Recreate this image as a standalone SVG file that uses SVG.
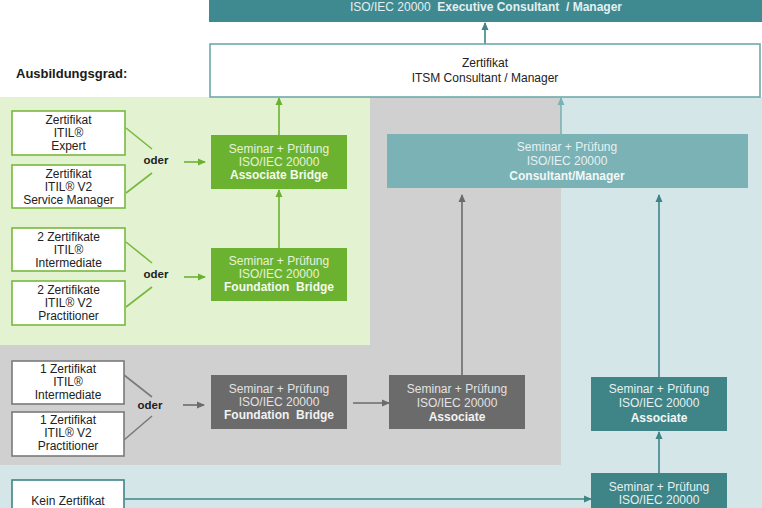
<svg xmlns="http://www.w3.org/2000/svg" width="762" height="508" viewBox="0 0 762 508">
<style>
text{font-family:"Liberation Sans",Arial,sans-serif;font-size:12px;text-anchor:middle}
.dk{fill:#222}
.lt{fill:#eef5f5}
.b{font-weight:bold}
.wbox{fill:#fff;stroke-width:1.6}
.gr{stroke:#77b93e}
.gy{stroke:#7a7a7a}
.tl{stroke:#3f8487}
.oder{font-weight:bold;font-size:11.5px;fill:#222}
.ln{fill:none;stroke-width:1.6}
</style>
<defs>
<marker id="ag" markerUnits="userSpaceOnUse" markerWidth="8" markerHeight="8" refX="7" refY="4" orient="auto"><path d="M0,0.5 L8,4 L0,7.5 z" fill="#6cb231"/></marker>
<marker id="ay" markerUnits="userSpaceOnUse" markerWidth="8" markerHeight="8" refX="7" refY="4" orient="auto"><path d="M0,0.5 L8,4 L0,7.5 z" fill="#6b6b6b"/></marker>
<marker id="at" markerUnits="userSpaceOnUse" markerWidth="8" markerHeight="8" refX="7" refY="4" orient="auto"><path d="M0,0.5 L8,4 L0,7.5 z" fill="#3f8487"/></marker>
<marker id="al" markerUnits="userSpaceOnUse" markerWidth="8" markerHeight="8" refX="7" refY="4" orient="auto"><path d="M0,0.5 L8,4 L0,7.5 z" fill="#7ab2b6"/></marker>
</defs>
<rect width="762" height="508" fill="#fff"/>
<!-- background bands -->
<rect x="0" y="97" width="762" height="411" fill="#d5e6e9"/>
<rect x="0" y="97" width="561" height="368" fill="#d0d0d0"/>
<rect x="0" y="97" width="370" height="248" fill="#e3f3d2"/>
<text x="16" y="78" style="text-anchor:start;font-weight:bold;font-size:13px;fill:#1a1a1a">Ausbildungsgrad:</text>

<g id="connectors">
<line class="ln" x1="485" y1="44" x2="485" y2="23" stroke="#3f8487" marker-end="url(#at)"/>
<line class="ln" x1="279" y1="135" x2="279" y2="98" stroke="#6cb231" marker-end="url(#ag)"/>
<line class="ln" x1="279" y1="248" x2="279" y2="190" stroke="#6cb231" marker-end="url(#ag)"/>
<line class="ln" x1="561" y1="134" x2="561" y2="98" stroke="#7ab2b6" marker-end="url(#al)"/>
<line class="ln" x1="462" y1="375" x2="462" y2="195" stroke="#6b6b6b" marker-end="url(#ay)"/>
<line class="ln" x1="659" y1="377" x2="659" y2="195" stroke="#3f8487" marker-end="url(#at)"/>
<line class="ln" x1="659" y1="473" x2="659" y2="432" stroke="#3f8487" marker-end="url(#at)"/>
<line class="ln" x1="125" y1="499" x2="591" y2="499" stroke="#3f8487" marker-end="url(#at)"/>
<line class="ln" x1="353" y1="403" x2="389" y2="403" stroke="#6b6b6b" marker-end="url(#ay)"/>
<path class="ln" d="M126,128 L152,149 M152,173 L126,193" stroke="#77b93e"/>
<path class="ln" d="M126,242 L152,263 M152,287 L126,307" stroke="#77b93e"/>
<path class="ln" d="M124,375 L152,397 M152,416 L124,440" stroke="#7a7a7a"/>
<line class="ln" x1="184" y1="162" x2="205" y2="162" stroke="#6cb231" marker-end="url(#ag)"/>
<line class="ln" x1="184" y1="277" x2="205" y2="277" stroke="#6cb231" marker-end="url(#ag)"/>
<line class="ln" x1="183" y1="405" x2="204" y2="405" stroke="#6b6b6b" marker-end="url(#ay)"/>
<text class="oder" x="156" y="164">oder</text>
<text class="oder" x="156" y="278">oder</text>
<text class="oder" x="150" y="409">oder</text>
</g>

<g id="exec">
<rect x="209" y="-2" width="555" height="24" fill="#3f8a91"/>
<text x="486" y="11" fill="#e4efef" style="white-space:pre">ISO/IEC 20000  <tspan font-weight="bold">Executive Consultant  / Manager</tspan></text>
</g>
<g id="itsm">
<rect x="210" y="44" width="550" height="53" fill="#fff" stroke="#6fa9ad" stroke-width="1.6"/>
<text class="dk" x="485" y="67">Zertifikat</text>
<text class="dk" x="485" y="82">ITSM Consultant / Manager</text>
</g>

<g id="expert">
<rect class="wbox gr" x="12" y="111" width="113" height="44"/>
<text class="dk" x="68.5" y="124">Zertifikat</text>
<text class="dk" x="68.5" y="137">ITIL®</text>
<text class="dk" x="68.5" y="150">Expert</text>
</g>
<g id="servicemanager">
<rect class="wbox gr" x="12" y="165" width="113" height="43"/>
<text class="dk" x="68.5" y="178">Zertifikat</text>
<text class="dk" x="68.5" y="191">ITIL® V2</text>
<text class="dk" x="68.5" y="204">Service Manager</text>
</g>
<g id="intermediate2">
<rect class="wbox gr" x="12" y="228" width="113" height="43"/>
<text class="dk" x="68.5" y="241">2 Zertifikate</text>
<text class="dk" x="68.5" y="254">ITIL®</text>
<text class="dk" x="68.5" y="267">Intermediate</text>
</g>
<g id="practitioner2">
<rect class="wbox gr" x="12" y="281" width="113" height="44"/>
<text class="dk" x="68.5" y="294">2 Zertifikate</text>
<text class="dk" x="68.5" y="307">ITIL® V2</text>
<text class="dk" x="68.5" y="320">Practitioner</text>
</g>
<g id="assocbridge">
<rect x="211" y="135" width="136" height="54" fill="#6cb231"/>
<text x="279" y="153" fill="#e6f3da">Seminar + Prüfung</text>
<text x="279" y="166" fill="#e6f3da">ISO/IEC 20000</text>
<text class="b" x="279" y="179" fill="#f4faef">Associate Bridge</text>
</g>
<g id="foundbridge">
<rect x="211" y="248" width="136" height="53" fill="#6cb231"/>
<text x="279" y="265" fill="#e6f3da">Seminar + Prüfung</text>
<text x="279" y="278" fill="#e6f3da">ISO/IEC 20000</text>
<text class="b" x="279" y="291" fill="#f4faef" style="white-space:pre">Foundation  Bridge</text>
</g>

<g id="intermediate1">
<rect class="wbox gy" x="12" y="361" width="112" height="43"/>
<text class="dk" x="68" y="373">1 Zertifikat</text>
<text class="dk" x="68" y="386">ITIL®</text>
<text class="dk" x="68" y="399">Intermediate</text>
</g>
<g id="practitioner1">
<rect class="wbox gy" x="12" y="412" width="112" height="44"/>
<text class="dk" x="68" y="424">1 Zertifikat</text>
<text class="dk" x="68" y="437">ITIL® V2</text>
<text class="dk" x="68" y="450">Practitioner</text>
</g>
<g id="foundbridge-gray">
<rect x="211" y="375" width="136" height="54" fill="#6b6b6b"/>
<text x="279" y="393" fill="#e2e2e2">Seminar + Prüfung</text>
<text x="279" y="406" fill="#e2e2e2">ISO/IEC 20000</text>
<text class="b" x="279" y="419" fill="#f2f2f2" style="white-space:pre">Foundation  Bridge</text>
</g>
<g id="associate-gray">
<rect x="389" y="375" width="136" height="54" fill="#6b6b6b"/>
<text x="457" y="393" fill="#e2e2e2">Seminar + Prüfung</text>
<text x="457" y="407" fill="#e2e2e2">ISO/IEC 20000</text>
<text class="b" x="457" y="421" fill="#f2f2f2">Associate</text>
</g>

<g id="consultant">
<rect x="387" y="134" width="361" height="54" fill="#7ab2b6"/>
<text x="567" y="151" fill="#e6f1f2">Seminar + Prüfung</text>
<text x="567" y="165" fill="#e6f1f2">ISO/IEC 20000</text>
<text class="b" x="567" y="180" fill="#f2f8f8">Consultant/Manager</text>
</g>
<g id="associate-teal">
<rect x="591" y="377" width="136" height="54" fill="#3f8487"/>
<text x="659" y="393" fill="#e6f0f0">Seminar + Prüfung</text>
<text x="659" y="407" fill="#e6f0f0">ISO/IEC 20000</text>
<text class="b" x="659" y="422" fill="#f2f8f8">Associate</text>
</g>
<g id="foundation-teal">
<rect x="591" y="473" width="136" height="40" fill="#3f8487"/>
<text x="659" y="491" fill="#e6f0f0">Seminar + Prüfung</text>
<text x="659" y="504" fill="#e6f0f0">ISO/IEC 20000</text>
</g>
<g id="kein">
<rect class="wbox tl" x="12" y="480" width="112" height="34"/>
<text class="dk" x="68" y="505">Kein Zertifikat</text>
</g>
</svg>
